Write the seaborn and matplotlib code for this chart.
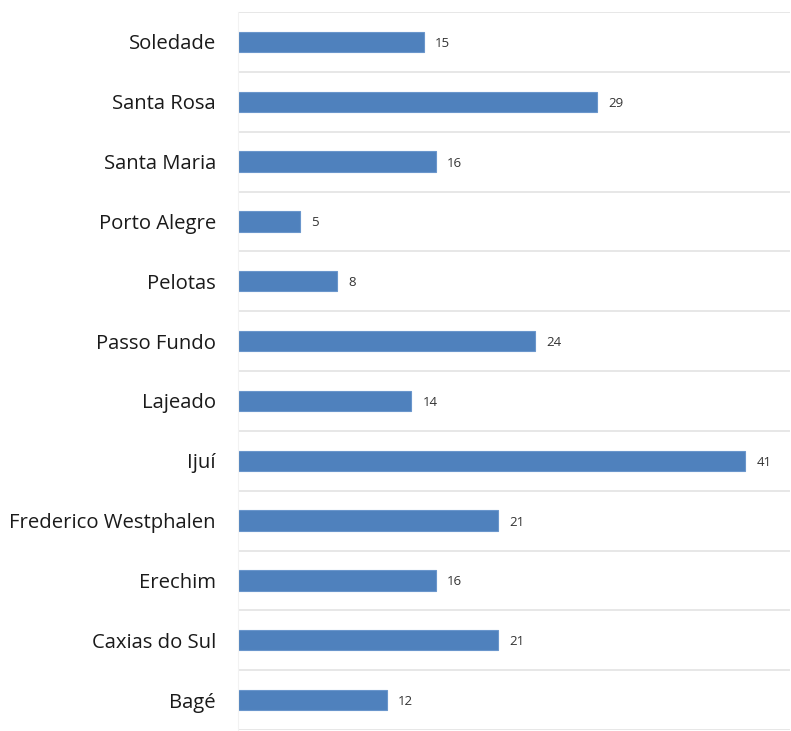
import numpy as np
import pandas as pd
import matplotlib
matplotlib.use("Agg")
import matplotlib.pyplot as plt
import seaborn as sns

cities = ["Soledade", "Santa Rosa", "Santa Maria", "Porto Alegre", "Pelotas",
          "Passo Fundo", "Lajeado", "Ijuí", "Frederico Westphalen", "Erechim",
          "Caxias do Sul", "Bagé"]
counts = [15, 29, 16, 5, 8, 24, 14, 41, 21, 16, 21, 12]

df = pd.DataFrame({"city": cities, "count": counts})

sns.set_theme(style="white")
plt.rcParams["font.family"] = ["Open Sans", "DejaVu Sans"]

fig = plt.figure(figsize=(7.91, 7.31), dpi=100)
ax = fig.add_axes([238 / 791, 1 / 731, 1 - 239 / 791, 718 / 731])

sns.barplot(data=df, x="count", y="city", order=cities, orient="h",
            color="#4F81BD", saturation=1, width=0.34,
            edgecolor="#6A96CC", linewidth=0.8, ax=ax)

n = len(cities)
ax.set_xlim(0, 44.6)
ax.set_ylim(n - 0.5, -0.5)
ax.set_yticks(np.arange(-0.5, n, 1), minor=True)
ax.grid(which="minor", axis="y", color="#E3E3E3", linewidth=1.2)
ax.grid(which="major", visible=False)
ax.set_axisbelow(True)

for side in ["top", "right", "bottom"]:
    ax.spines[side].set_visible(False)
ax.spines["left"].set_color("#F2F2F2")
ax.spines["left"].set_linewidth(0.8)

ax.set_xticks([])
ax.set_xlabel("")
ax.set_ylabel("")
ax.tick_params(axis="y", which="both", length=0, pad=16, labelsize=14.6,
               labelcolor="#1A1A1A")

for i, v in enumerate(counts):
    ax.annotate(str(v), xy=(v, i), xytext=(8, 0), textcoords="offset points",
                ha="left", va="center_baseline", fontsize=9.5, color="#333333")

fig.savefig("out.png", dpi=100, facecolor="white")
